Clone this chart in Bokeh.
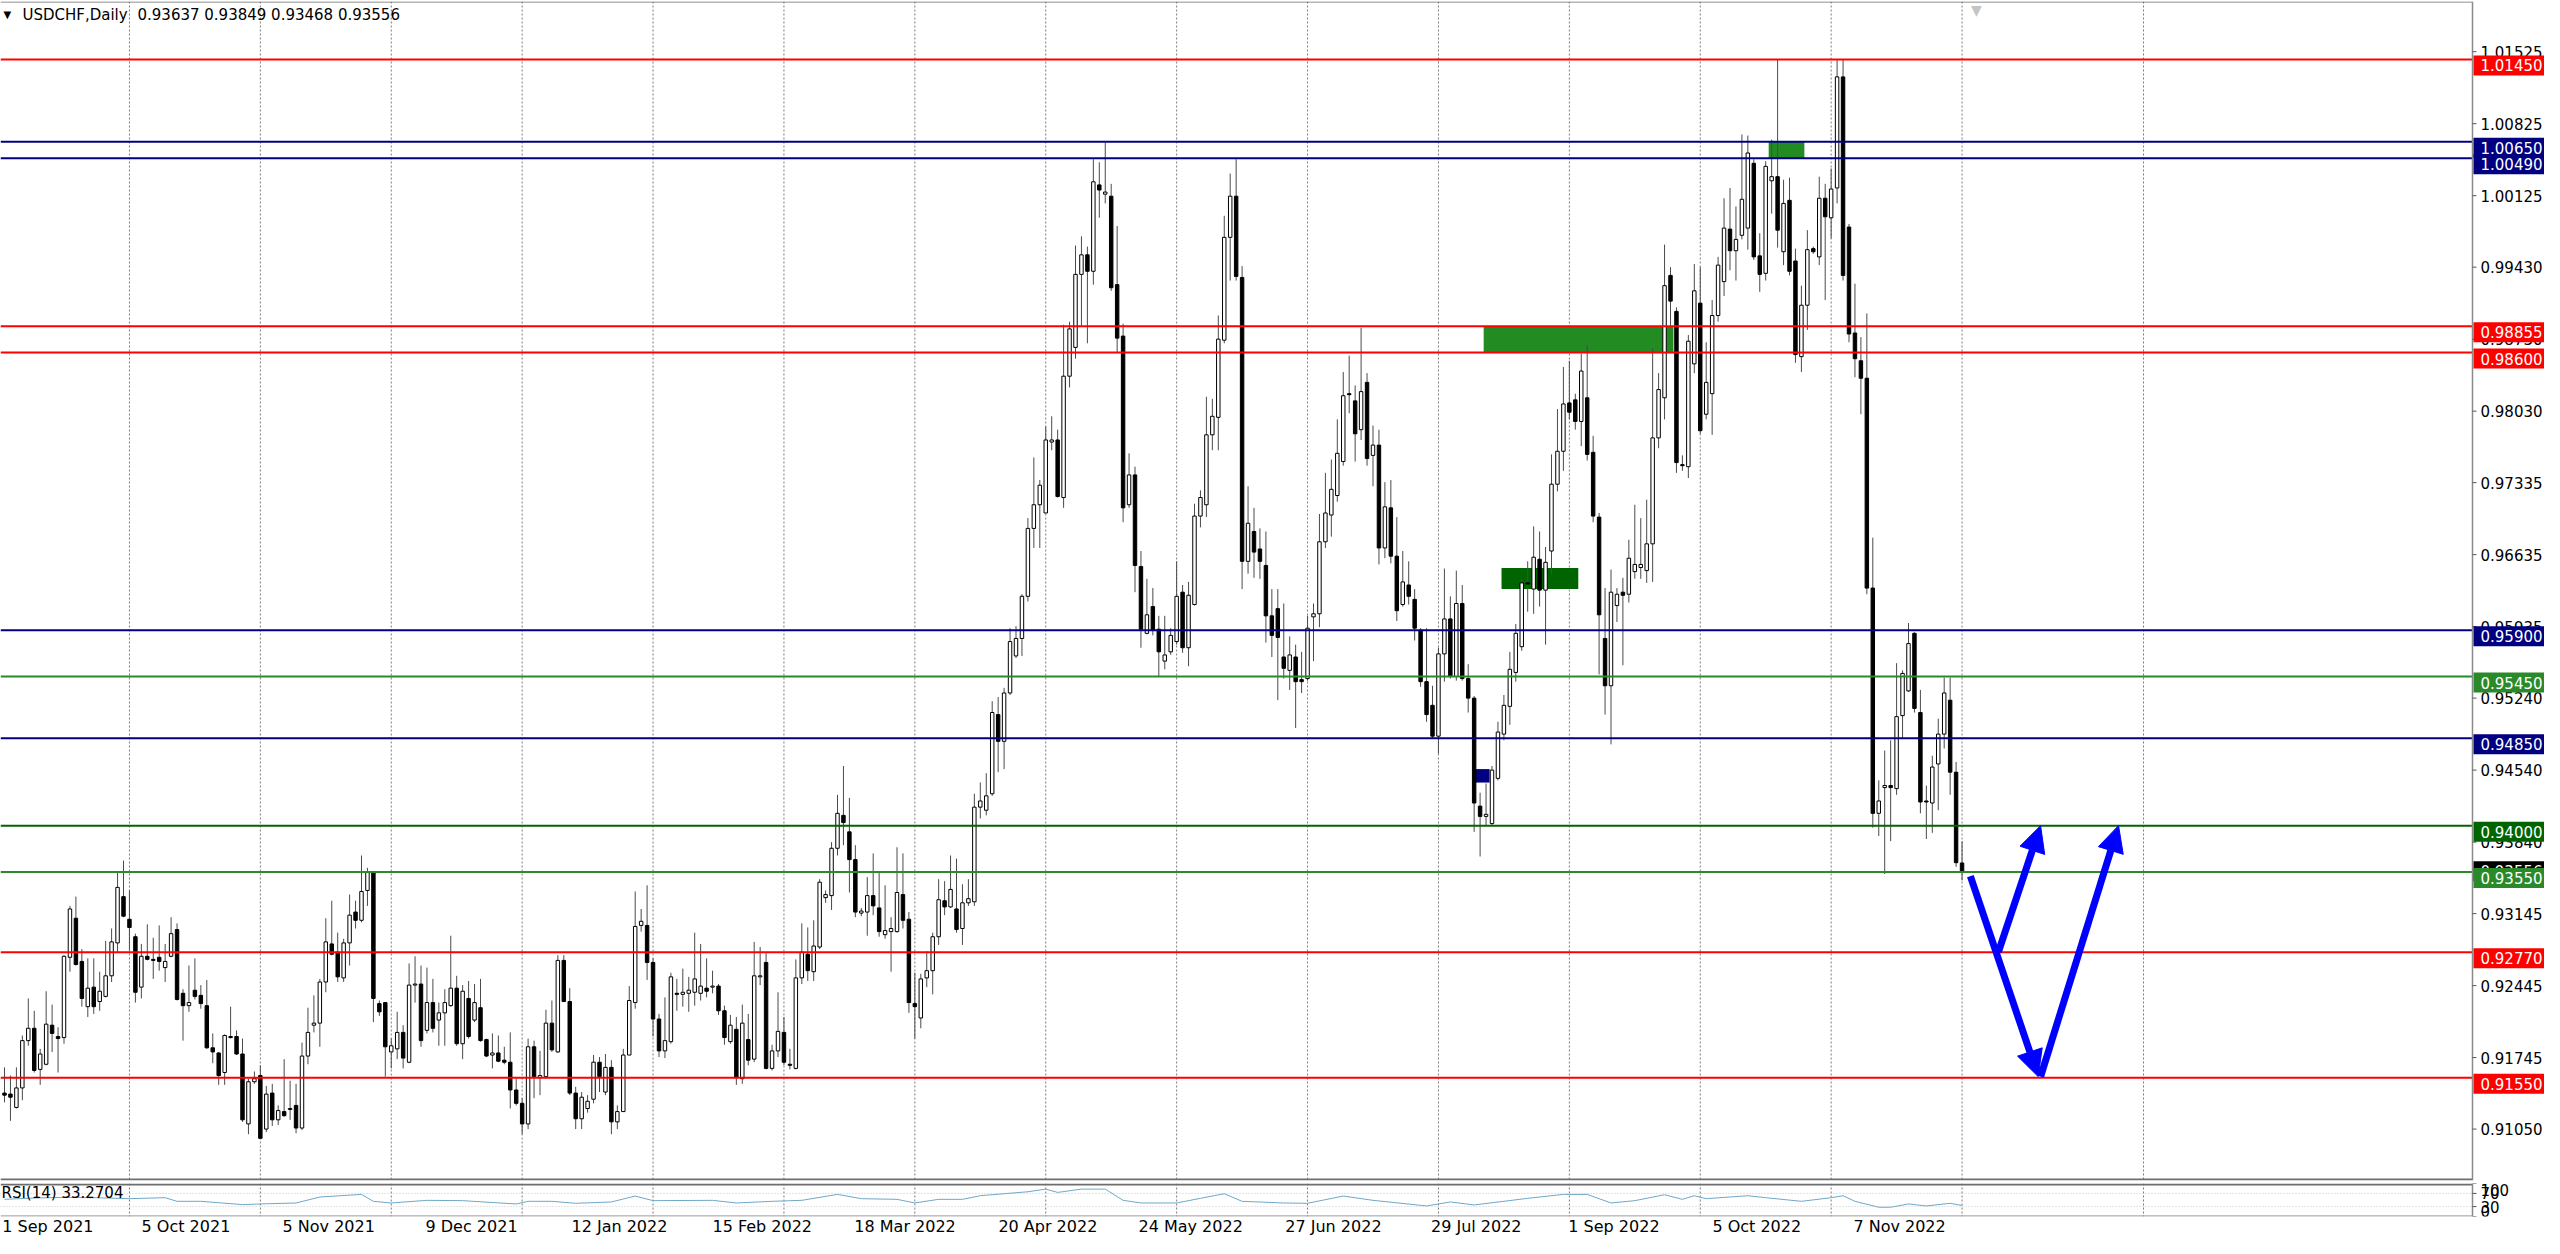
from bokeh.plotting import figure
from bokeh.layouts import column
from bokeh.models import Range1d, FixedTicker, Span, Label, Arrow, NormalHead, ColumnDataSource
from bokeh.core.properties import value
from bokeh.embed import file_html
from bokeh.resources import INLINE

FONT = "DejaVu Sans"

# ---------------- data (USDCHF daily) ----------------
op = [
0.9140, 0.9139, 0.9126, 0.9145, 0.9191, 0.9203, 0.9163, 0.9168, 0.9206, 0.9195,
0.9194, 0.9272, 0.9310, 0.9268, 0.9224, 0.9243, 0.9229, 0.9234, 0.9254, 0.9286,
0.9331, 0.9309, 0.9292, 0.9243, 0.9273, 0.9270, 0.9272, 0.9262, 0.9273, 0.9299,
0.9237, 0.9225, 0.9240, 0.9235, 0.9225, 0.9184, 0.9179, 0.9160, 0.9195, 0.9195,
0.9178, 0.9110, 0.9151, 0.9157, 0.9105, 0.9140, 0.9114, 0.9122, 0.9124, 0.9128,
0.9106, 0.9176, 0.9206, 0.9208, 0.9248, 0.9285, 0.9277, 0.9252, 0.9286, 0.9316,
0.9308, 0.9337, 0.9354, 0.9227, 0.9228, 0.9180, 0.9183, 0.9199, 0.9170, 0.9245,
0.9246, 0.9201, 0.9228, 0.9211, 0.9218, 0.9225, 0.9242, 0.9188, 0.9232, 0.9211,
0.9223, 0.9192, 0.9177, 0.9179, 0.9172, 0.9170, 0.9143, 0.9130, 0.9110, 0.9185,
0.9155, 0.9156, 0.9208, 0.9180, 0.9269, 0.9229, 0.9140, 0.9115, 0.9125, 0.9134,
0.9170, 0.9141, 0.9165, 0.9112, 0.9122, 0.9177, 0.9228, 0.9303, 0.9303, 0.9267,
0.9212, 0.9181, 0.9190, 0.9237, 0.9236, 0.9237, 0.9238, 0.9237, 0.9242, 0.9243,
0.9244, 0.9220, 0.9190, 0.9202, 0.9154, 0.9192, 0.9173, 0.9253, 0.9267, 0.9164,
0.9181, 0.9199, 0.9168, 0.9164, 0.9252, 0.9275, 0.9258, 0.9282, 0.9330, 0.9332,
0.9378, 0.9410, 0.9394, 0.9367, 0.9315, 0.9316, 0.9332, 0.9320, 0.9294, 0.9297,
0.9297, 0.9333, 0.9309, 0.9227, 0.9213, 0.9252, 0.9259, 0.9292, 0.9327, 0.9321,
0.9319, 0.9300, 0.9325, 0.9326, 0.9418, 0.9415, 0.9431, 0.9508, 0.9482, 0.9529,
0.9565, 0.9582, 0.9623, 0.9689, 0.9712, 0.9704, 0.9773, 0.9775, 0.9719, 0.9837,
0.9865, 0.9936, 0.9955, 0.9939, 1.0023, 1.0014, 1.0012, 0.9926, 0.9876, 0.9712,
0.9741, 0.9652, 0.9587, 0.9613, 0.9591, 0.9560, 0.9569, 0.9579, 0.9627, 0.9573,
0.9615, 0.9701, 0.9712, 0.9780, 0.9797, 0.9872, 0.9972, 1.0012, 0.9933, 0.9657,
0.9686, 0.9669, 0.9653, 0.9604, 0.9611, 0.9564, 0.9551, 0.9564, 0.9542, 0.9543,
0.9603, 0.9606, 0.9676, 0.9702, 0.9721, 0.9754, 0.9820, 0.9813, 0.9785, 0.9831,
0.9760, 0.9770, 0.9670, 0.9709, 0.9662, 0.9615, 0.9634, 0.9620, 0.9590, 0.9540,
0.9517, 0.9487, 0.9567, 0.9601, 0.9545, 0.9616, 0.9543, 0.9524, 0.9419, 0.9409,
0.9402, 0.9446, 0.9489, 0.9516, 0.9549, 0.9574, 0.9636, 0.9630, 0.9659, 0.9629,
0.9667, 0.9732, 0.9764, 0.9811, 0.9814, 0.9793, 0.9816, 0.9763, 0.9700, 0.9582,
0.9536, 0.9614, 0.9627, 0.9625, 0.9647, 0.9651, 0.9648, 0.9674, 0.9777, 0.9816,
0.9935, 0.9900, 0.9751, 0.9749, 0.9849, 0.9908, 0.9800, 0.9820, 0.9896, 0.9929,
0.9980, 0.9959, 0.9974, 0.9981, 1.0044, 0.9954, 0.9937, 1.0027, 1.0031, 0.9958,
1.0008, 0.9949, 0.9856, 0.9906, 0.9961, 0.9953, 1.0010, 0.9991, 1.0020, 1.0128,
0.9982, 0.9879, 0.9852, 0.9835, 0.9631, 0.9412, 0.9437, 0.9439, 0.9436, 0.9507,
0.9531, 0.9587, 0.9510, 0.9424, 0.9422, 0.9460, 0.9489, 0.9522, 0.9452, 0.93637,
]
hi = [
0.9165, 0.9157, 0.9165, 0.9196, 0.9232, 0.9220, 0.9183, 0.9239, 0.9226, 0.9204,
0.9274, 0.9322, 0.9331, 0.9280, 0.9271, 0.9271, 0.9258, 0.9288, 0.9300, 0.9355,
0.9366, 0.9337, 0.9295, 0.9285, 0.9304, 0.9291, 0.9303, 0.9285, 0.9311, 0.9305,
0.9241, 0.9264, 0.9271, 0.9245, 0.9250, 0.9198, 0.9180, 0.9197, 0.9224, 0.9201,
0.9193, 0.9154, 0.9161, 0.9167, 0.9147, 0.9149, 0.9128, 0.9173, 0.9152, 0.9149,
0.9189, 0.9223, 0.9235, 0.9251, 0.9310, 0.9327, 0.9296, 0.9290, 0.9333, 0.9327,
0.9371, 0.9359, 0.9356, 0.9230, 0.9228, 0.9193, 0.9219, 0.9206, 0.9266, 0.9273,
0.9264, 0.9262, 0.9251, 0.9228, 0.9241, 0.9293, 0.9254, 0.9245, 0.9249, 0.9246,
0.9251, 0.9193, 0.9198, 0.9196, 0.9185, 0.9199, 0.9154, 0.9135, 0.9193, 0.9191,
0.9181, 0.9221, 0.9230, 0.9274, 0.9274, 0.9242, 0.9146, 0.9141, 0.9138, 0.9177,
0.9175, 0.9178, 0.9172, 0.9128, 0.9183, 0.9244, 0.9336, 0.9319, 0.9342, 0.9271,
0.9217, 0.9233, 0.9257, 0.9251, 0.9261, 0.9253, 0.9296, 0.9285, 0.9271, 0.9259,
0.9246, 0.9225, 0.9216, 0.9214, 0.9226, 0.9217, 0.9287, 0.9282, 0.9276, 0.9187,
0.9238, 0.9214, 0.9183, 0.9270, 0.9305, 0.9301, 0.9308, 0.9348, 0.9337, 0.9384,
0.9430, 0.9458, 0.9427, 0.9381, 0.9320, 0.9350, 0.9373, 0.9355, 0.9342, 0.9311,
0.9379, 0.9373, 0.9316, 0.9257, 0.9256, 0.9278, 0.9296, 0.9348, 0.9346, 0.9371,
0.9368, 0.9343, 0.9348, 0.9431, 0.9442, 0.9451, 0.9521, 0.9525, 0.9534, 0.9592,
0.9594, 0.9625, 0.9699, 0.9758, 0.9736, 0.9788, 0.9798, 0.9785, 0.9887, 0.9890,
0.9964, 0.9973, 0.9963, 1.0048, 1.0045, 1.0064, 1.0024, 0.9983, 0.9888, 0.9762,
0.9749, 0.9667, 0.9640, 0.9631, 0.9604, 0.9604, 0.9592, 0.9657, 0.9634, 0.9637,
0.9713, 0.9726, 0.9817, 0.9815, 0.9896, 0.9993, 1.0034, 1.0048, 0.9944, 0.9730,
0.9709, 0.9689, 0.9686, 0.9630, 0.9630, 0.9616, 0.9584, 0.9576, 0.9569, 0.9604,
0.9616, 0.9703, 0.9743, 0.9756, 0.9795, 0.9841, 0.9857, 0.9828, 0.9884, 0.9840,
0.9789, 0.9785, 0.9734, 0.9736, 0.9700, 0.9667, 0.9657, 0.9630, 0.9592, 0.9592,
0.9536, 0.9573, 0.9650, 0.9623, 0.9648, 0.9634, 0.9557, 0.9526, 0.9432, 0.9441,
0.9458, 0.9501, 0.9527, 0.9569, 0.9596, 0.9640, 0.9657, 0.9691, 0.9686, 0.9671,
0.9761, 0.9805, 0.9846, 0.9852, 0.9820, 0.9859, 0.9867, 0.9779, 0.9704, 0.9631,
0.9649, 0.9631, 0.9641, 0.9678, 0.9712, 0.9699, 0.9717, 0.9864, 0.9840, 0.9965,
0.9943, 0.9904, 0.9760, 0.9877, 0.9946, 0.9943, 0.9870, 0.9911, 0.9953, 1.0010,
1.0020, 1.0002, 1.0072, 1.0071, 1.0048, 0.9976, 1.0046, 1.0067, 1.0145, 1.0028,
1.0030, 0.9961, 0.9925, 0.9979, 0.9963, 1.0031, 1.0024, 1.0039, 1.0145, 1.0145,
0.9985, 0.9927, 0.9875, 0.9898, 0.9680, 0.9444, 0.9473, 0.9483, 0.9558, 0.9551,
0.9597, 0.9588, 0.9532, 0.9439, 0.9468, 0.9504, 0.9544, 0.9544, 0.9462, 0.93849,
]
lo = [
0.9131, 0.9113, 0.9125, 0.9133, 0.9186, 0.9160, 0.9148, 0.9167, 0.9180, 0.9160,
0.9188, 0.9258, 0.9264, 0.9224, 0.9214, 0.9217, 0.9220, 0.9233, 0.9248, 0.9277,
0.9311, 0.9279, 0.9228, 0.9232, 0.9269, 0.9251, 0.9259, 0.9248, 0.9272, 0.9230,
0.9191, 0.9219, 0.9231, 0.9222, 0.9183, 0.9169, 0.9148, 0.9148, 0.9193, 0.9177,
0.9112, 0.9100, 0.9149, 0.9096, 0.9102, 0.9108, 0.9109, 0.9117, 0.9114, 0.9101,
0.9104, 0.9168, 0.9199, 0.9185, 0.9238, 0.9274, 0.9248, 0.9248, 0.9264, 0.9300,
0.9306, 0.9322, 0.9209, 0.9215, 0.9156, 0.9164, 0.9173, 0.9164, 0.9169, 0.9228,
0.9185, 0.9198, 0.9199, 0.9186, 0.9186, 0.9224, 0.9186, 0.9173, 0.9193, 0.9209,
0.9190, 0.9175, 0.9164, 0.9170, 0.9168, 0.9125, 0.9128, 0.9100, 0.9105, 0.9135,
0.9138, 0.9154, 0.9180, 0.9179, 0.9229, 0.9138, 0.9105, 0.9105, 0.9121, 0.9130,
0.9141, 0.9138, 0.9100, 0.9105, 0.9122, 0.9177, 0.9222, 0.9297, 0.9250, 0.9195,
0.9175, 0.9174, 0.9188, 0.9220, 0.9224, 0.9219, 0.9225, 0.9230, 0.9233, 0.9237,
0.9216, 0.9187, 0.9188, 0.9148, 0.9149, 0.9167, 0.9170, 0.9245, 0.9163, 0.9162,
0.9175, 0.9167, 0.9163, 0.9163, 0.9246, 0.9249, 0.9249, 0.9280, 0.9325, 0.9318,
0.9371, 0.9381, 0.9335, 0.9311, 0.9312, 0.9293, 0.9313, 0.9292, 0.9290, 0.9258,
0.9296, 0.9300, 0.9218, 0.9193, 0.9203, 0.9243, 0.9236, 0.9284, 0.9313, 0.9320,
0.9296, 0.9284, 0.9322, 0.9322, 0.9407, 0.9410, 0.9429, 0.9452, 0.9455, 0.9527,
0.9563, 0.9565, 0.9618, 0.9670, 0.9670, 0.9704, 0.9765, 0.9719, 0.9709, 0.9826,
0.9854, 0.9886, 0.9869, 0.9926, 0.9991, 1.0005, 0.9920, 0.9860, 0.9695, 0.9709,
0.9627, 0.9573, 0.9586, 0.9585, 0.9545, 0.9552, 0.9566, 0.9576, 0.9568, 0.9555,
0.9614, 0.9690, 0.9700, 0.9765, 0.9765, 0.9869, 0.9930, 0.9930, 0.9630, 0.9645,
0.9641, 0.9640, 0.9578, 0.9564, 0.9522, 0.9543, 0.9532, 0.9495, 0.9529, 0.9541,
0.9560, 0.9593, 0.9670, 0.9681, 0.9715, 0.9750, 0.9801, 0.9754, 0.9775, 0.9750,
0.9730, 0.9654, 0.9660, 0.9655, 0.9599, 0.9613, 0.9615, 0.9580, 0.9535, 0.9501,
0.9485, 0.9470, 0.9540, 0.9543, 0.9541, 0.9541, 0.9510, 0.9394, 0.9370, 0.9400,
0.9400, 0.9444, 0.9483, 0.9498, 0.9540, 0.9570, 0.9608, 0.9606, 0.9613, 0.9576,
0.9644, 0.9725, 0.9745, 0.9795, 0.9785, 0.9769, 0.9755, 0.9695, 0.9547, 0.9508,
0.9479, 0.9598, 0.9556, 0.9617, 0.9640, 0.9640, 0.9636, 0.9637, 0.9767, 0.9795,
0.9885, 0.9743, 0.9745, 0.9738, 0.9840, 0.9781, 0.9795, 0.9780, 0.9890, 0.9915,
0.9940, 0.9930, 0.9970, 0.9960, 0.9950, 0.9919, 0.9930, 0.9995, 0.9962, 0.9945,
0.9935, 0.9850, 0.9841, 0.9882, 0.9956, 0.9945, 0.9911, 0.9971, 1.0005, 0.9930,
0.9870, 0.9836, 0.9800, 0.9625, 0.9398, 0.9390, 0.9353, 0.9385, 0.9430, 0.9485,
0.9530, 0.9510, 0.9412, 0.9387, 0.9393, 0.9415, 0.9475, 0.9430, 0.9360, 0.93468,
]
cl = [
0.9138, 0.9136, 0.9145, 0.9191, 0.9203, 0.9162, 0.9178, 0.9207, 0.9198, 0.9193,
0.9273, 0.9319, 0.9265, 0.9232, 0.9242, 0.9224, 0.9239, 0.9254, 0.9287, 0.9340,
0.9312, 0.9301, 0.9238, 0.9273, 0.9270, 0.9269, 0.9268, 0.9268, 0.9295, 0.9231,
0.9225, 0.9228, 0.9234, 0.9227, 0.9184, 0.9180, 0.9157, 0.9196, 0.9194, 0.9178,
0.9114, 0.9151, 0.9154, 0.9096, 0.9139, 0.9114, 0.9123, 0.9118, 0.9125, 0.9106,
0.9176, 0.9199, 0.9208, 0.9248, 0.9287, 0.9275, 0.9253, 0.9286, 0.9313, 0.9308,
0.9336, 0.9355, 0.9232, 0.9219, 0.9185, 0.9186, 0.9199, 0.9174, 0.9245, 0.9246,
0.9191, 0.9228, 0.9203, 0.9218, 0.9228, 0.9242, 0.9188, 0.9239, 0.9195, 0.9228,
0.9191, 0.9176, 0.9179, 0.9171, 0.9170, 0.9143, 0.9130, 0.9110, 0.9185, 0.9156,
0.9157, 0.9208, 0.9182, 0.9269, 0.9229, 0.9140, 0.9115, 0.9136, 0.9132, 0.9170,
0.9156, 0.9165, 0.9112, 0.9122, 0.9177, 0.9230, 0.9302, 0.9307, 0.9267, 0.9212,
0.9181, 0.9191, 0.9253, 0.9236, 0.9238, 0.9240, 0.9251, 0.9244, 0.9239, 0.9244,
0.9220, 0.9194, 0.9206, 0.9155, 0.9208, 0.9172, 0.9254, 0.9254, 0.9164, 0.9181,
0.9200, 0.9170, 0.9167, 0.9252, 0.9277, 0.9259, 0.9283, 0.9345, 0.9333, 0.9378,
0.9412, 0.9403, 0.9367, 0.9316, 0.9317, 0.9332, 0.9322, 0.9297, 0.9298, 0.9300,
0.9335, 0.9308, 0.9228, 0.9224, 0.9251, 0.9259, 0.9292, 0.9328, 0.9321, 0.9338,
0.9299, 0.9325, 0.9329, 0.9418, 0.9424, 0.9429, 0.9510, 0.9482, 0.9529, 0.9579,
0.9582, 0.9623, 0.9689, 0.9712, 0.9731, 0.9775, 0.9775, 0.9720, 0.9837, 0.9883,
0.9936, 0.9955, 0.9939, 1.0026, 1.0018, 1.0016, 0.9923, 0.9874, 0.9709, 0.9741,
0.9653, 0.9591, 0.9605, 0.9590, 0.9569, 0.9566, 0.9585, 0.9623, 0.9573, 0.9624,
0.9701, 0.9719, 0.9780, 0.9798, 0.9873, 0.9972, 1.0012, 0.9934, 0.9657, 0.9694,
0.9666, 0.9657, 0.9604, 0.9585, 0.9583, 0.9553, 0.9566, 0.9540, 0.9540, 0.9592,
0.9606, 0.9676, 0.9704, 0.9727, 0.9762, 0.9818, 0.9819, 0.9781, 0.9822, 0.9757,
0.9770, 0.9670, 0.9710, 0.9662, 0.9609, 0.9637, 0.9623, 0.9592, 0.9540, 0.9508,
0.9487, 0.9567, 0.9601, 0.9545, 0.9616, 0.9543, 0.9524, 0.9422, 0.9409, 0.9411,
0.9454, 0.9491, 0.9517, 0.9552, 0.9587, 0.9636, 0.9635, 0.9661, 0.9629, 0.9656,
0.9732, 0.9764, 0.9810, 0.9802, 0.9793, 0.9842, 0.9761, 0.9701, 0.9605, 0.9536,
0.9627, 0.9625, 0.9624, 0.9660, 0.9654, 0.9654, 0.9674, 0.9777, 0.9824, 0.9925,
0.9910, 0.9753, 0.9750, 0.9871, 0.9920, 0.9784, 0.9831, 0.9896, 0.9945, 0.9981,
0.9959, 0.9970, 1.0009, 1.0054, 0.9953, 0.9936, 1.0041, 1.0031, 0.9979, 1.0005,
0.9939, 0.9858, 0.9906, 0.9960, 0.9958, 1.0010, 0.9992, 1.0019, 1.0128, 0.9935,
0.9878, 0.9854, 0.9835, 0.9631, 0.9412, 0.9424, 0.9439, 0.9437, 0.9506, 0.9548,
0.9577, 0.9514, 0.9423, 0.9423, 0.9457, 0.9489, 0.9529, 0.9452, 0.9364, 0.93556,
]

# RSI(14) read at sparse bars
rsi_bar = [0, 5, 10, 15, 21, 27, 29, 33, 40, 43, 49, 53, 60, 62, 65, 71, 77, 86, 88, 92,
           96, 102, 106, 109, 119, 123, 129, 134, 140, 144, 150, 153, 157, 161, 164, 172, 175, 177, 181, 185,
           188, 191, 197, 201, 205, 208, 215, 219, 225, 230, 239, 243, 247, 256, 262, 266, 270, 274, 279, 282,
           284, 286, 293, 296, 302, 307, 309, 311, 315, 317, 320, 323, 327, 329]
rsi_val = [52, 56, 58, 57, 54, 57, 46, 46, 36, 38, 41, 59, 67, 46, 41, 49, 48, 38, 46, 46,
           40, 44, 62, 48, 49, 41, 46, 49, 67, 54, 52, 41, 52, 52, 63, 75, 83, 73, 83, 83,
           49, 41, 41, 55, 69, 46, 41, 40, 62, 49, 32, 44, 35, 55, 67, 67, 41, 48, 66, 52,
           63, 54, 63, 57, 46, 57, 63, 46, 28, 28, 38, 32, 40, 33.2704]

# axis ticks
y_ticks = [1.01525, 1.00825, 1.00125, 0.99430, 0.98730, 0.98030, 0.97335, 0.96635,
           0.95935, 0.95240, 0.94540, 0.93840, 0.93145, 0.92445, 0.91745, 0.91050]
y_tick_labels = ["1.01525", "1.00825", "1.00125", "0.99430", "0.98730", "0.98030", "0.97335", "0.96635",
                 "0.95935", "0.95240", "0.94540", "0.93840", "0.93145", "0.92445", "0.91745", "0.91050"]
date_bars = [-0.2, 23, 47, 71, 95, 119, 143, 167, 191, 215, 239, 263, 287, 311]
date_labels = ["1 Sep 2021", "5 Oct 2021", "5 Nov 2021", "9 Dec 2021", "12 Jan 2022", "15 Feb 2022",
               "18 Mar 2022", "20 Apr 2022", "24 May 2022", "27 Jun 2022", "29 Jul 2022", "1 Sep 2022",
               "5 Oct 2022", "7 Nov 2022"]
grid_bars = [21, 43, 65, 87, 109, 131, 153, 175, 197, 219, 241, 263, 285, 307, 329, 359.5]
rsi_ticks = [0, 30, 70, 100]
rsi_tick_labels = ["0", "30", "70", "100"]
rsi_tick_baselines = ["bottom", "middle", "middle", "top"]

# horizontal levels drawn by the analyst
level_prices = [1.0145, 1.0065, 1.0049, 0.98855, 0.98600, 0.95900, 0.95450, 0.94850,
                0.94000, 0.93550, 0.92770, 0.91550]
level_colors = ["#ff0000", "#000080", "#000080", "#ff0000", "#ff0000", "#000080", "#2a8a2a", "#000080",
                "#006400", "#2a8a2a", "#ff0000", "#ff0000"]
bid_price = cl[-1]

# zones (rectangles)
zone_left = [248.6, 251.6, 296.5, 246.9]
zone_right = [280.5, 264.5, 302.5, 249.6]
zone_bottom = [0.98600, 0.96301, 1.00490, 0.94419]
zone_top = [0.98855, 0.96504, 1.00650, 0.94550]
zone_color = ["#228b22", "#006400", "#228b22", "#000080"]

# forecast arrows
fc_x0 = [330.4, 335.1, 342.2]
fc_y0 = [0.9351, 0.9277, 0.9156]
fc_x1 = [341.8, 342.2, 355.3]
fc_y1 = [0.9156, 0.9400, 0.9400]

# ---------------- geometry ----------------
W = 2544
AXIS_X_PX = 2472          # x of the price scale line
BAR_PX = 5.95             # pixels per bar
X0 = -4 / BAR_PX
X1 = X0 + W / BAR_PX
XA = X0 + AXIS_X_PX / BAR_PX
Y0, Y1 = 0.90550, 1.02013
MAIN_H = 1182
MAIN_FRAME = MAIN_H - 3
ppx = (Y1 - Y0) / MAIN_FRAME
bpx = 1.0 / BAR_PX
xr = Range1d(X0, X1)

p = figure(width=W, height=MAIN_H, x_range=xr, y_range=Range1d(Y0, Y1),
           x_axis_location=None, y_axis_location=None, toolbar_location=None,
           output_backend="svg", min_border_left=0, min_border_right=0,
           min_border_top=1, min_border_bottom=2)
p.grid.visible = False
p.outline_line_color = None
p.background_fill_color = "white"
p.border_fill_color = "white"

for gx in grid_bars:
    p.add_layout(Span(location=gx, dimension="height", line_color="#7a7a7a",
                      line_dash="2 2", line_width=1, level="underlay"))

zsrc = ColumnDataSource(dict(l=zone_left, r=zone_right, b=zone_bottom, t=zone_top, c=zone_color))
p.quad(left="l", right="r", bottom="b", top="t", fill_color="c", line_color=None, source=zsrc)

bars = list(range(len(cl)))
src = ColumnDataSource(dict(
    x=bars, o=op, h=hi, l=lo, c=cl,
    top=[max(a, b) for a, b in zip(op, cl)],
    bot=[min(a, b) for a, b in zip(op, cl)],
    fill=["white" if c >= o else "black" for o, c in zip(op, cl)],
))
p.segment(x0="x", y0="l", x1="x", y1="h", source=src, line_color="#4a4a4a", line_width=1)
p.vbar(x="x", width=0.58, top="top", bottom="bot", fill_color="fill",
       line_color="black", line_width=1, source=src)

# level lines up to the price scale
p.segment(x0=X0, x1=XA, y0=level_prices, y1=level_prices, line_color=level_colors, line_width=2)

# frame borders and price scale
p.segment(x0=X0, x1=XA, y0=Y1 - 0.5 * ppx, y1=Y1 - 0.5 * ppx, line_color="#6e6e6e", line_width=1)
p.segment(x0=X0, x1=XA, y0=Y0 + 1.0 * ppx, y1=Y0 + 1.0 * ppx, line_color="#6e6e6e", line_width=2)
p.segment(x0=XA, x1=XA, y0=Y0, y1=Y1, line_color="#8a8a8a", line_width=1.5)
p.segment(x0=XA, x1=XA + 4 * bpx, y0=y_ticks, y1=y_ticks, line_color="#555555", line_width=1)
p.text(x=[XA] * len(y_ticks), y=y_ticks, text=y_tick_labels, x_offset=8,
       text_font=value(FONT), text_font_size=value("15px"), text_color="#000000",
       text_align="left", text_baseline="middle")


def tag(price, color, up_px, down_px):
    p.quad(left=XA + 1 * bpx, right=X1, top=price + up_px * ppx, bottom=price - down_px * ppx,
           fill_color=color, line_color=None)
    p.text(x=[XA], y=[price - (down_px - up_px) / 2 * ppx], text=[f"{price:.5f}"], x_offset=8,
           text_font=value(FONT), text_font_size=value("15px"), text_color="#ffffff",
           text_align="left", text_baseline="middle")


for lp, lc in zip(level_prices, level_colors):
    if lp == 0.93550:
        tag(bid_price, "#000000", 10, 10)
    tag(lp, lc, 4, 16)

for x0, y0, x1, y1 in zip(fc_x0, fc_y0, fc_x1, fc_y1):
    p.add_layout(Arrow(end=NormalHead(size=26, fill_color="#0000ff", line_color="#0000ff"),
                       x_start=x0, y_start=y0, x_end=x1, y_end=y1,
                       line_color="#0000ff", line_width=7))

hy = Y1 - 13 * ppx
p.add_layout(Label(x=X0, y=hy, x_offset=3, text="\u25bc", text_font=FONT, text_font_size="10px",
                   text_color="#000000", text_baseline="middle"))
p.add_layout(Label(x=X0, y=hy, x_offset=22, text="USDCHF,Daily", text_font=FONT,
                   text_font_size="15px", text_color="#000000", text_baseline="middle"))
p.add_layout(Label(x=X0, y=hy, x_offset=137,
                   text=" ".join(f"{v:.5f}" for v in (op[-1], hi[-1], lo[-1], cl[-1])),
                   text_font=FONT, text_font_size="15px", text_color="#000000", text_baseline="middle"))
p.add_layout(Label(x=331.4, y=Y1, text="\u25bc", text_font=FONT, text_font_size="14px",
                   text_color="#c4c4c4", text_align="center", text_baseline="top"))

# ---------------- RSI panel ----------------
RSI_H = 56
RSI_FRAME = RSI_H - 1 - 19
rpx = 100.0 / RSI_FRAME
p2 = figure(width=W, height=RSI_H, x_range=xr, y_range=Range1d(0, 100),
            y_axis_location=None, x_axis_location="below", toolbar_location=None,
            output_backend="svg", min_border_left=0, min_border_right=0,
            min_border_top=1, min_border_bottom=19)
p2.grid.visible = False
p2.outline_line_color = None
p2.background_fill_color = "white"
p2.border_fill_color = "white"
for gx in grid_bars:
    p2.add_layout(Span(location=gx, dimension="height", line_color="#7a7a7a",
                       line_dash="2 2", line_width=1, level="underlay"))
p2.segment(x0=X0, x1=XA, y0=[70, 30], y1=[70, 30], line_color="#c8c8c8", line_dash="1 2", line_width=1)
p2.line(rsi_bar, rsi_val, line_color="#6fa8c8", line_width=1)
# panel frame up to the scale
p2.segment(x0=X0, x1=XA, y0=100 - 1.0 * rpx, y1=100 - 1.0 * rpx, line_color="#6e6e6e", line_width=2)
p2.segment(x0=X0, x1=XA, y0=0.5 * rpx, y1=0.5 * rpx, line_color="#7a7a7a", line_width=1)
p2.segment(x0=XA, x1=XA, y0=0, y1=100, line_color="#8a8a8a", line_width=1.5)
p2.segment(x0=XA, x1=XA + 4 * bpx, y0=rsi_ticks, y1=rsi_ticks, line_color="#555555", line_width=1)
for t, s, bl in zip(rsi_ticks, rsi_tick_labels, rsi_tick_baselines):
    p2.text(x=[XA], y=[t], text=[s], x_offset=8,
            text_font=value(FONT), text_font_size=value("15px"), text_color="#000000",
            text_align="left", text_baseline=bl)
p2.add_layout(Label(x=X0, y=70, x_offset=1, text=f"RSI(14) {rsi_val[-1]:.4f}", text_font=FONT,
                    text_font_size="15px", text_color="#000000", text_baseline="middle"))


def text_w(s):
    w = 0.0
    for ch in s:
        if ch.isdigit():
            w += 10.2
        elif ch == " ":
            w += 5.1
        elif ch.isupper():
            w += 10.8
        else:
            w += 8.6
    return w


date_ticks = [round(b + text_w(s) / 2 / BAR_PX, 3) for b, s in zip(date_bars, date_labels)]
xa = p2.xaxis[0]
xa.ticker = FixedTicker(ticks=date_ticks)
xa.major_label_overrides = {t: s for t, s in zip(date_ticks, date_labels)}
xa.major_label_text_font = FONT
xa.major_label_text_font_size = "16px"
xa.major_label_text_color = "#000000"
xa.major_tick_line_color = None
xa.major_tick_out = 0
xa.major_tick_in = 0
xa.minor_tick_line_color = None
xa.axis_line_color = None
xa.major_label_standoff = 0

layout = column(p, p2, spacing=0)
open("out.html", "w").write(file_html(layout, INLINE, title="USDCHF,Daily"))
